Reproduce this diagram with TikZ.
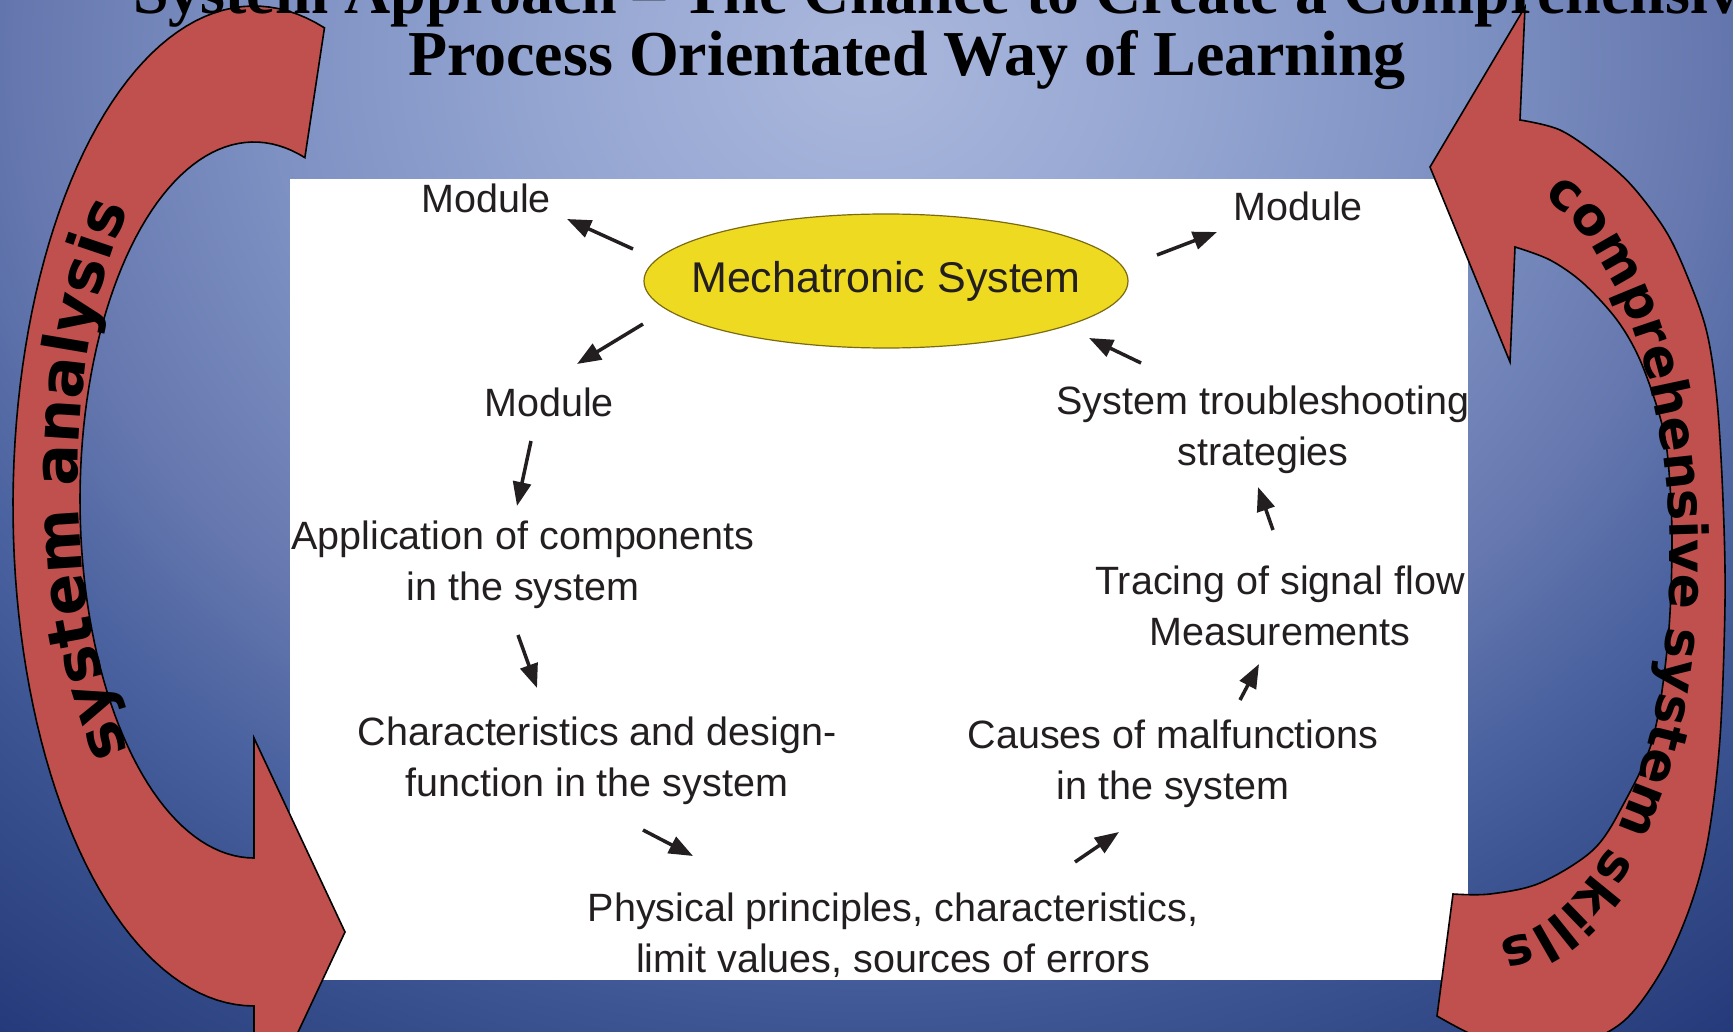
\documentclass[tikz,border=0pt]{standalone}
\usepackage{fontspec}
\setmainfont{Liberation Sans}
\newfontfamily\titlefont{Liberation Serif}
\newfontfamily\arcfont{DejaVu Sans}
\usetikzlibrary{arrows.meta,shapes.geometric,decorations.text}
\definecolor{bgA}{HTML}{ABB8DD}
\definecolor{bgB}{HTML}{95A6D2}
\definecolor{bgC}{HTML}{7D90C2}
\definecolor{bgD}{HTML}{6577AE}
\definecolor{bgE}{HTML}{4B63A0}
\definecolor{bgF}{HTML}{3D5592}
\definecolor{bgG}{HTML}{253A7A}
\definecolor{bgH}{HTML}{1D2F6A}
\definecolor{arrred}{HTML}{C0504D}
\definecolor{ellfill}{HTML}{EFDA22}
\definecolor{ellline}{HTML}{7A6A10}
\definecolor{txt}{HTML}{231F20}
% pgf maps the 25bp..75bp middle square of a shading onto the path's bounding box
\pgfdeclareradialshading{bgshade}{\pgfpoint{0bp}{0bp}}{color(0bp)=(bgA); color(5.75bp)=(bgB); color(11.25bp)=(bgC); color(15.75bp)=(bgD); color(18.75bp)=(bgE); color(21.1bp)=(bgF); color(26.5bp)=(bgG); color(35bp)=(bgH); color(50bp)=(bgH)}
\newcommand\arcA{\arcfont\bfseries\fontsize{62}{62}\selectfont}
\newcommand\arcB{\arcfont\bfseries\fontsize{52}{52}\selectfont}
\begin{document}
\begin{tikzpicture}[x=1pt,y=-1pt,
  lbl/.style={font=\fontsize{39.5}{51}\selectfont, text=txt, align=center, inner sep=0pt},
  arr/.style={draw=txt, line width=3.5pt, -{Triangle[length=24pt,width=18pt]}},
  bigarrow/.style={fill=arrred, draw=black, line width=1.6pt, line join=miter},
  titletxt/.style={font=\titlefont\bfseries\fontsize{64}{64}\selectfont, text=black, inner sep=0pt}]
\useasboundingbox (0,0) rectangle (1733,1032);
\begin{scope}
\clip (0,0) rectangle (1733,1032);
% background
\fill[bgH] (0,0) rectangle (1733,1032);
\shade[shading=bgshade] (-484,-1090) rectangle (2216,1210);
% white panel
\fill[white] (290,179) rectangle (1468,980);

% central ellipse
\node[ellipse, draw=ellline, line width=1.2pt, fill=ellfill, minimum width=484pt, minimum height=134pt, inner sep=0pt,
      font=\fontsize{43}{50}\selectfont, text=txt] (ms) at (886,281) {\makebox[0pt]{Mechatronic System}};

% text nodes
\node[lbl] (modTL) at (486,198) {Module};
\node[lbl] (modTR) at (1298,206) {Module};
\node[lbl] (modL) at (549,402) {Module};
\node[lbl] (app) at (523,565) {Application of components\\in the system};
\node[lbl] (char) at (597,761) {Characteristics and design-\\function in the system};
\node[lbl] (phys) at (893,935) {Physical principles, characteristics,\\limit values, sources of errors};
\node[lbl] (cause) at (1173,764) {Causes of malfunctions\\in the system};
\node[lbl] (trace) at (1280,606) {Tracing of signal flow\\Measurements};
\node[lbl] (trouble) at (1263,430) {System troubleshooting\\strategies};

% arrow end points
\coordinate (a1s) at (633,249);  \coordinate (a1e) at (567,219);
\coordinate (a2s) at (1157,255); \coordinate (a2e) at (1217,232);
\coordinate (a3s) at (643,324);  \coordinate (a3e) at (577,364);
\coordinate (a4s) at (1141,363); \coordinate (a4e) at (1089,338);
\coordinate (a5s) at (531,441);  \coordinate (a5e) at (517,506);
\coordinate (a6s) at (518,635);  \coordinate (a6e) at (537,688);
\coordinate (a7s) at (643,830);  \coordinate (a7e) at (693,856);
\coordinate (a8s) at (1075,862); \coordinate (a8e) at (1119,832);
\coordinate (a9s) at (1240,700); \coordinate (a9e) at (1259,664);
\coordinate (a10s) at (1273,530); \coordinate (a10e) at (1258,487);
\foreach \i in {1,...,10} { \draw[arr] (a\i s) -- (a\i e); }

% left curved arrow
\filldraw[bigarrow]
  plot[domain=287:90, samples=90] ({254+241*cos(\x)},{506+500*sin(\x)})
  -- (254,1126) -- (345,932) -- (254,738)
  -- plot[domain=90:287, samples=90] ({254+174*cos(\x)},{500+358*sin(\x)})
  -- cycle;
\path[decorate, decoration={text along path, text align=center, text={|\arcA|system analysis}}]
  plot[domain=100:260, samples=80] ({254+176*cos(\x)},{480+385*sin(\x)});

% right curved arrow
\filldraw[bigarrow]
  (1525,7) -- (1520,120)
  -- plot[smooth, tension=0.55] coordinates {(1520,120) (1560,130) (1600,157) (1633,187) (1667,233) (1690,283) (1707,333) (1717,400) (1723,500) (1725,602) (1720,738) (1708,839) (1690,907) (1662,970) (1625,1020) (1580,1044) (1530,1050) (1480,1038) (1437,1016)}
  -- (1453,894)
  -- plot[smooth, tension=0.55] coordinates {(1453,894) (1490,894) (1540,883) (1593,850) (1623,805) (1653,738) (1668,640) (1672,540) (1668,460) (1660,417) (1640,360) (1617,320) (1583,283) (1550,260) (1515,247)}
  -- (1510,362) -- (1430,167) -- cycle;
\path[decorate, decoration={text along path, text align=center, text={|\arcB|comprehensive system skills}}]
  plot[domain=-85:100, samples=100] ({1490+180*cos(\x)},{560+380*sin(\x)});

% title
\node[titletxt, anchor=base west] (t1) at (133,14) {System Approach – The Chance to Create a Comprehensive};
\node[titletxt, anchor=base] (t2) at (907,76) {Process Orientated Way of Learning};
\end{scope}
\end{tikzpicture}
\end{document}
